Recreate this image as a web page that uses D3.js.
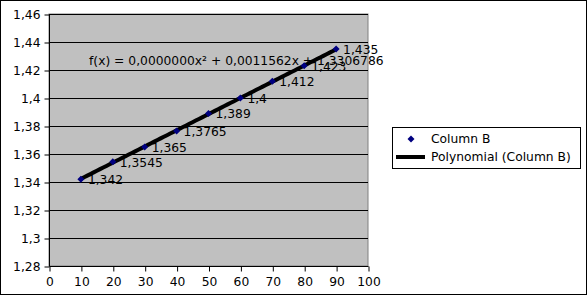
<!DOCTYPE html>
<html><head><meta charset="utf-8">
<script src="https://cdn.jsdelivr.net/npm/d3@7"></script>
<style>body{margin:0;background:#fff}svg{display:block;font-family:"DejaVu Sans",sans-serif}</style>
</head><body>
<script>
const xValues = [10, 20, 30, 40, 50, 60, 70, 80, 90];
const yValues = [1.342, 1.3545, 1.365, 1.3765, 1.389, 1.4, 1.412, 1.423, 1.435];
const xTicks = [0, 10, 20, 30, 40, 50, 60, 70, 80, 90, 100];
const yTicks = [1.28, 1.3, 1.32, 1.34, 1.36, 1.38, 1.4, 1.42, 1.44, 1.46];
const coeffs = [1.3306786, 0.0011562, 0.0000000]; // c0, c1, c2
const equationText = "f(x) = 0,0000000x² + 0,0011562x + 1,3306786";
const seriesName = "Column B";
const trendName = "Polynomial (Column B)";

const fmt = v => String(v).replace(".", ",");
const W = 588, H = 296;
const FS = 12.3;
const svg = d3.select("body").append("svg").attr("width", W).attr("height", H);

svg.append("rect").attr("x", 0.5).attr("y", 0.5).attr("width", 586).attr("height", 294)
  .attr("fill", "#fff").attr("stroke", "#000");

const L = 49, R = 368, T = 14, B = 266;
const x = d3.scaleLinear().domain([0, 100]).range([L, R]);
const y = d3.scaleLinear().domain([1.28, 1.46]).range([B, T]);

svg.append("rect").attr("x", L).attr("y", T).attr("width", R - L).attr("height", B - T)
  .attr("fill", "#c0c0c0").attr("stroke", "#808080");

// gridlines
svg.append("g").selectAll("line").data(yTicks.slice(1)).join("line")
  .attr("x1", L).attr("x2", R).attr("y1", d => Math.round(y(d)) + 0.5).attr("y2", d => Math.round(y(d)) + 0.5)
  .attr("stroke", "#000");

// axes
const ya = svg.append("g").attr("transform", `translate(${L + 0.5},0.5)`)
  .call(d3.axisLeft(y).tickValues(yTicks).tickFormat(fmt).tickSize(5).tickPadding(4));
const xa = svg.append("g").attr("transform", `translate(0.5,${B + 0.5})`)
  .call(d3.axisBottom(x).tickValues(xTicks).tickFormat(fmt).tickSize(5).tickPadding(6));
[ya, xa].forEach(a => {
  a.selectAll("text").attr("font-size", FS).attr("fill", "#000").attr("font-family", "DejaVu Sans");
  a.selectAll("line,path").attr("stroke", "#000");
});
xa.select(".domain").attr("d", `M${L},0H${R}`);
ya.select(".domain").attr("d", `M0,${T}V${B}`);

// trendline
const f = v => coeffs[0] + coeffs[1] * v + coeffs[2] * v * v;
const tx = d3.range(10, 90.01, 1);
svg.append("path").datum(tx)
  .attr("d", d3.line().x(d => x(d)).y(d => y(f(d))))
  .attr("fill", "none").attr("stroke", "#000").attr("stroke-width", 4);

// markers (square diamond)
const diamond = "M0,-3.5L3.5,0L0,3.5L-3.5,0Z";
svg.append("g").selectAll("path").data(xValues).join("path")
  .attr("d", diamond)
  .attr("transform", (d, i) => `translate(${x(d)},${y(yValues[i])})`)
  .attr("fill", "#000080");

// labels
svg.append("g").selectAll("text").data(xValues).join("text")
  .attr("x", d => x(d) + 7)
  .attr("y", (d, i) => y(yValues[i]) + 5)
  .attr("font-size", FS).attr("fill", "#000")
  .text((d, i) => fmt(yValues[i]));

// equation
svg.append("text").attr("x", 89).attr("y", 65).attr("font-size", FS).attr("fill", "#000").text(equationText);

// legend
svg.append("rect").attr("x", 392.5).attr("y", 127.5).attr("width", 188).attr("height", 41)
  .attr("fill", "#fff").attr("stroke", "#000");
svg.append("path").attr("d", diamond).attr("transform", "translate(411,139)").attr("fill", "#000080");
svg.append("text").attr("x", 431).attr("y", 143).attr("font-size", FS).text(seriesName);
svg.append("line").attr("x1", 396).attr("x2", 425).attr("y1", 157).attr("y2", 157)
  .attr("stroke", "#000").attr("stroke-width", 4);
svg.append("text").attr("x", 431).attr("y", 161).attr("font-size", FS).text(trendName);
</script>
</body></html>
